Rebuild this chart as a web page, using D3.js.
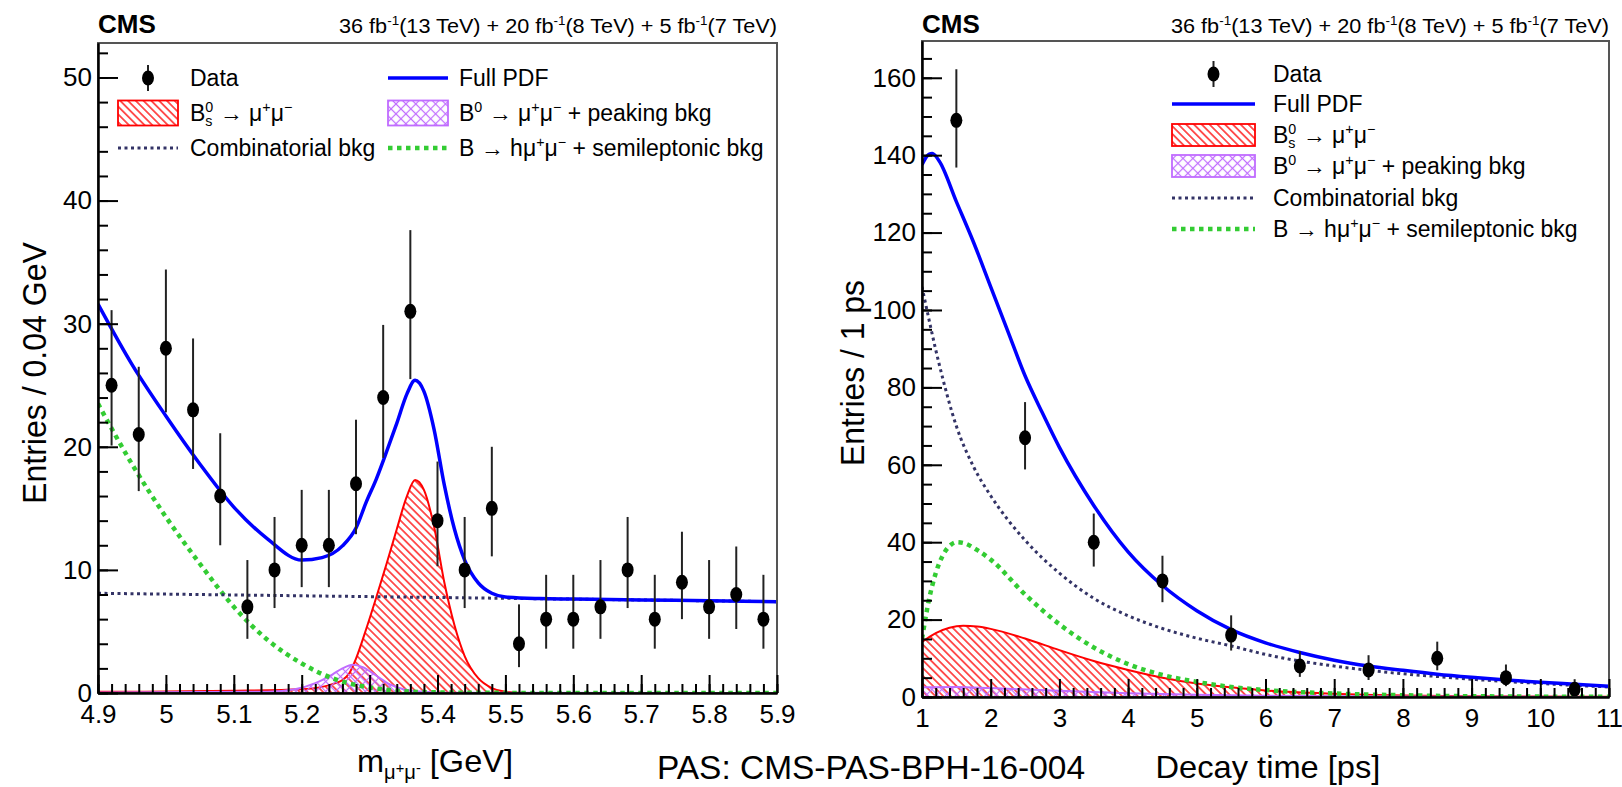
<!DOCTYPE html>
<html>
<head>
<meta charset="utf-8">
<script src="https://cdn.jsdelivr.net/npm/d3@7"></script>
<style>
  body { margin: 0; background: #fff; }
  svg text { font-family: "Liberation Sans", Arial, Helvetica, sans-serif; fill: #000; white-space: pre; }
</style>
</head>
<body>
<script>
// ---- left panel: invariant mass ----
const massBins = [4.92, 4.96, 5.00, 5.04, 5.08, 5.12, 5.16, 5.20, 5.24, 5.28, 5.32, 5.36, 5.40, 5.44, 5.48, 5.52, 5.56, 5.60, 5.64, 5.68, 5.72, 5.76, 5.80, 5.84, 5.88];
const massCounts = [25, 21, 28, 23, 16, 7, 10, 12, 12, 17, 24, 31, 14, 10, 15, 4, 6, 6, 7, 10, 6, 9, 7, 8, 6];
const massErrLow = [20.1, 16.4, 22.8, 18.2, 12.0, 4.4, 6.9, 8.6, 8.6, 12.9, 19.1, 25.5, 10.3, 6.9, 11.1, 2.1, 3.6, 3.6, 4.4, 6.9, 3.6, 6.0, 4.4, 5.2, 3.6];
const massErrHigh = [31.1, 26.5, 34.4, 28.8, 21.1, 10.8, 14.3, 16.5, 16.5, 22.2, 29.9, 37.6, 18.8, 14.3, 20.0, 7.2, 9.6, 9.6, 10.8, 14.3, 9.6, 13.1, 10.8, 11.9, 9.6];

const massFullX = [4.90, 4.95, 5.00, 5.05, 5.10, 5.15, 5.20, 5.23, 5.26, 5.28, 5.295, 5.31, 5.325, 5.34, 5.355, 5.367, 5.38, 5.395, 5.41, 5.425, 5.44, 5.46, 5.48, 5.50, 5.55, 5.60, 5.70, 5.80, 5.90];
const massFullY = [31.6, 26.7, 22.5, 18.6, 15.1, 12.5, 10.8, 11.0, 11.95, 13.4, 15.5, 17.4, 19.6, 21.9, 24.3, 25.4, 24.5, 21.4, 16.9, 13.3, 10.8, 8.95, 8.1, 7.8, 7.67, 7.63, 7.56, 7.49, 7.42];
const massBsX = [4.90, 5.00, 5.10, 5.20, 5.25, 5.27, 5.28, 5.295, 5.31, 5.325, 5.34, 5.355, 5.367, 5.38, 5.395, 5.41, 5.425, 5.44, 5.46, 5.48, 5.50, 5.53, 5.90];
const massBsY = [0.1, 0.12, 0.18, 0.3, 0.8, 1.6, 2.8, 5.2, 7.8, 10.5, 13.3, 16.0, 17.3, 16.5, 13.5, 9.0, 5.5, 3.0, 1.2, 0.4, 0.1, 0.0, 0.0];
const massB0X = [4.90, 5.15, 5.19, 5.22, 5.245, 5.26, 5.275, 5.29, 5.31, 5.33, 5.35, 5.38, 5.42, 5.90];
const massB0Y = [0.05, 0.1, 0.3, 0.8, 1.5, 2.0, 2.3, 2.1, 1.4, 0.7, 0.3, 0.1, 0.03, 0.0];
const massCombX = [4.90, 5.90];
const massCombY = [8.1, 7.42];
const massSemiX = [4.90, 4.95, 5.00, 5.05, 5.10, 5.15, 5.20, 5.25, 5.30, 5.35, 5.40, 5.50, 5.90];
const massSemiY = [23.5, 18.6, 14.3, 10.5, 7.0, 4.3, 2.4, 1.1, 0.45, 0.15, 0.05, 0.01, 0.0];

const massTicksX = [4.9, 5, 5.1, 5.2, 5.3, 5.4, 5.5, 5.6, 5.7, 5.8, 5.9];
const massTicksY = [0, 10, 20, 30, 40, 50];

// ---- right panel: decay time ----
const timeBins = [1.5, 2.5, 3.5, 4.5, 5.5, 6.5, 7.5, 8.5, 9.5, 10.5];
const timeCounts = [149, 67, 40, 30, 16, 8, 7, 10, 5, 2];
const timeErrLow = [136.8, 58.8, 33.7, 24.5, 12.0, 5.2, 4.4, 6.9, 2.8, 0.7];
const timeErrHigh = [162.2, 76.2, 47.4, 36.5, 21.1, 11.8, 10.8, 14.3, 8.4, 4.6];

const timeFullX = [1.0, 1.1, 1.15, 1.25, 1.5, 1.75, 2.0, 2.25, 2.5, 2.75, 3.0, 3.5, 4.0, 4.5, 5.0, 5.5, 6.0, 6.5, 7.0, 7.5, 8.0, 8.5, 9.0, 9.5, 10.0, 10.5, 11.0];
const timeFullY = [137.5, 140.2, 140.4, 138.5, 128, 117.5, 106, 94.5, 83, 73.5, 64.5, 49.5, 37.5, 28.8, 22.3, 17.4, 14.0, 11.5, 9.5, 8.0, 6.9, 5.9, 5.1, 4.4, 3.8, 3.3, 2.8];
const timeBsX = [1.0, 1.2, 1.4, 1.6, 1.8, 2.0, 2.5, 3.0, 3.5, 4.0, 4.5, 5.0, 5.5, 6.0, 7.0, 8.0, 9.0, 10.0, 11.0];
const timeBsY = [14.2, 16.5, 17.9, 18.4, 18.2, 17.6, 15.1, 12.1, 9.3, 7.0, 5.0, 3.5, 2.5, 1.7, 0.85, 0.4, 0.2, 0.1, 0.05];
const timeB0X = [1.0, 1.5, 2.0, 3.0, 4.0, 5.0, 6.0, 8.0, 11.0];
const timeB0Y = [2.5, 2.6, 2.3, 1.6, 1.0, 0.6, 0.35, 0.12, 0.03];
const timeCombX = [1.0, 1.25, 1.5, 1.75, 2.0, 2.5, 3.0, 3.5, 4.0, 4.5, 5.0, 5.5, 6.0, 6.5, 7.0, 7.5, 8.0, 8.5, 9.0, 9.5, 10.0, 10.5, 11.0];
const timeCombY = [106, 86, 70, 59.5, 52, 40.5, 32, 25.5, 21, 17.7, 15.2, 13.2, 11.0, 9.3, 8.0, 6.9, 6.0, 5.3, 4.6, 4.0, 3.5, 3.0, 2.6];
const timeSemiX = [1.0, 1.1, 1.2, 1.3, 1.4, 1.5, 1.6, 1.8, 2.0, 2.5, 3.0, 3.5, 4.0, 4.5, 5.0, 5.5, 6.0, 7.0, 8.0, 9.0, 11.0];
const timeSemiY = [15, 25, 32, 36.5, 39, 40, 39.8, 38, 35.5, 26.5, 18.8, 12.8, 8.5, 5.7, 3.9, 2.6, 1.8, 0.9, 0.45, 0.2, 0.05];

const timeTicksX = [1, 2, 3, 4, 5, 6, 7, 8, 9, 10, 11];
const timeTicksY = [0, 20, 40, 60, 80, 100, 120, 140, 160];

// ---- labels ----
const lumiLabel = [{t: "36 fb"}, {t: "-1", sup: 1}, {t: "(13 TeV) + 20 fb"}, {t: "-1", sup: 1}, {t: "(8 TeV) + 5 fb"}, {t: "-1", sup: 1}, {t: "(7 TeV)"}];
const bsLabel = [{t: "B"}, {t: "0", sup: 1}, {t: "s", sub: 1, stack: 1}, {t: " \u2192 \u03bc"}, {t: "+", sup: 1}, {t: "\u03bc"}, {t: "\u2212", sup: 1}];
const b0Label = [{t: "B"}, {t: "0", sup: 1}, {t: " \u2192 \u03bc"}, {t: "+", sup: 1}, {t: "\u03bc"}, {t: "\u2212", sup: 1}, {t: " + peaking bkg"}];
const semiLabel = [{t: "B \u2192 h\u03bc"}, {t: "+", sup: 1}, {t: "\u03bc"}, {t: "\u2212", sup: 1}, {t: " + semileptonic bkg"}];
const massTitle = [{t: "m"}, {t: "\u03bc", sub: 1}, {t: "+", subsup: 1}, {t: "\u03bc", sub: 1}, {t: "-", subsup: 1}, {t: " [GeV]"}];

const colors = {full: "#0000ff", bs: "#ff0000", b0: "#c06cff", comb: "#333366", semi: "#33cc33"};

const svg = d3.select("body").append("svg")
  .attr("width", 1622)
  .attr("height", 787)
  .attr("style", "background: #fff");

function makePatterns() {
  const defs = svg.append("defs");
  const hatch = defs.append("pattern")
    .attr("id", "hatchRed")
    .attr("patternUnits", "userSpaceOnUse")
    .attr("width", 5.5).attr("height", 5.5)
    .attr("patternTransform", "rotate(-45)");
  hatch.append("line")
    .attr("x1", 2.75).attr("y1", 0).attr("x2", 2.75).attr("y2", 5.5)
    .attr("stroke", colors.bs).attr("stroke-width", 1.3);

  const cross = defs.append("pattern")
    .attr("id", "crossViolet")
    .attr("patternUnits", "userSpaceOnUse")
    .attr("width", 7).attr("height", 7)
    .attr("patternTransform", "rotate(45)");
  cross.append("line")
    .attr("x1", 3.5).attr("y1", 0).attr("x2", 3.5).attr("y2", 7)
    .attr("stroke", colors.b0).attr("stroke-width", 1.2);
  cross.append("line")
    .attr("x1", 0).attr("y1", 3.5).attr("x2", 7).attr("y2", 3.5)
    .attr("stroke", colors.b0).attr("stroke-width", 1.2);
  return defs;
}

// text made of pieces with super/subscripts, laid out one after another
function richText(g, x, y, parts, size, opts = {}) {
  const grp = g.append("g");
  let cx = 0, prevStart = 0;
  parts.forEach(p => {
    let fs = size, dy = 0;
    if (p.sup) { fs = size * 0.62; dy = -size * 0.4; }
    if (p.sub) { fs = size * 0.62; dy = size * 0.22; }
    if (p.subsup) { fs = size * 0.45; dy = size * 0.02; }
    const px = p.stack ? prevStart : cx;
    const el = grp.append("text")
      .attr("x", px).attr("y", dy)
      .attr("font-size", fs)
      .attr("font-weight", opts.bold ? "bold" : null)
      .text(p.t);
    const w = el.node().getComputedTextLength();
    if (p.stack) cx = Math.max(cx, px + w);
    else { prevStart = px; cx = px + w; }
  });
  const sx = opts.width ? opts.width / cx : 1;
  const anchor = opts.anchor == "end" ? 1 : opts.anchor == "middle" ? 0.5 : 0;
  grp.attr("transform", `translate(${x - anchor * cx * sx},${y}) scale(${sx},1)`);
  return grp;
}

function drawAxes(g, p, x, y) {
  const w = p.x1 - p.x0, h = p.y1 - p.y0;

  g.append("rect")
    .attr("x", 0).attr("y", 0).attr("width", w).attr("height", h)
    .attr("fill", "none").attr("stroke", "#555").attr("stroke-width", 2);

  const xMinor = d3.axisBottom(x).tickValues(x.ticks(p.xMinorCount)).tickSizeInner(-9).tickSizeOuter(0).tickFormat("");
  const xMajor = d3.axisBottom(x).tickValues(p.xTicks).tickSizeInner(-18).tickSizeOuter(0).tickPadding(12)
    .tickFormat(d => String(+d.toFixed(2)));
  const yMinor = d3.axisLeft(y).tickValues(y.ticks(p.yMinorCount)).tickSizeInner(-10).tickSizeOuter(0).tickFormat("");
  const yMajor = d3.axisLeft(y).tickValues(p.yTicks).tickSizeInner(-20).tickSizeOuter(0).tickPadding(6);

  [[xMinor, true], [xMajor, true], [yMinor, false], [yMajor, false]].forEach(([ax, bottom]) => {
    const a = g.append("g")
      .attr("transform", bottom ? `translate(0,${h})` : null)
      .call(ax);
    a.selectAll("line").attr("stroke", "#000").attr("stroke-width", 2);
    a.select(".domain").attr("stroke", "#000").attr("stroke-width", 2);
    a.selectAll("text").attr("font-size", 26).attr("fill", "#000")
      .attr("font-family", '"Liberation Sans", Arial, sans-serif');
  });
}

function drawCurves(g, p, x, y) {
  const w = p.x1 - p.x0, h = p.y1 - p.y0;
  const clipId = "clip-" + p.id;
  g.append("clipPath").attr("id", clipId)
    .append("rect").attr("width", w).attr("height", h);
  const c = g.append("g").attr("clip-path", `url(#${clipId})`);

  const pts = (xs, ys) => xs.map((v, i) => [v, ys[i]]);
  const line = d3.line().x(d => x(d[0])).y(d => y(d[1])).curve(d3.curveMonotoneX);
  const area = d3.area().x(d => x(d[0])).y0(y(0)).y1(d => y(d[1])).curve(d3.curveMonotoneX);

  c.append("path").datum(pts(p.bsX, p.bsY))
    .attr("d", area).attr("fill", "url(#hatchRed)");
  c.append("path").datum(pts(p.bsX, p.bsY))
    .attr("d", line).attr("fill", "none").attr("stroke", colors.bs).attr("stroke-width", 2);

  c.append("path").datum(pts(p.b0X, p.b0Y))
    .attr("d", area).attr("fill", "url(#crossViolet)");
  c.append("path").datum(pts(p.b0X, p.b0Y))
    .attr("d", line).attr("fill", "none").attr("stroke", colors.b0).attr("stroke-width", 2);

  c.append("path").datum(pts(p.semiX, p.semiY))
    .attr("d", line).attr("fill", "none").attr("stroke", colors.semi)
    .attr("stroke-width", 4.5).attr("stroke-dasharray", "4.5,4.5");

  c.append("path").datum(pts(p.combX, p.combY))
    .attr("d", line).attr("fill", "none").attr("stroke", colors.comb)
    .attr("stroke-width", 3).attr("stroke-dasharray", "3,3.5");

  c.append("path").datum(pts(p.fullX, p.fullY))
    .attr("d", line).attr("fill", "none").attr("stroke", colors.full).attr("stroke-width", 3.5);
}

function drawData(g, p, x, y) {
  const pts = p.bins.map((b, i) => ({b: b, n: p.counts[i], lo: p.errLow[i], hi: p.errHigh[i]}));
  g.selectAll(".err-" + p.id)
    .data(pts)
    .enter()
    .append("line")
    .attr("x1", d => x(d.b)).attr("x2", d => x(d.b))
    .attr("y1", d => y(d.lo)).attr("y2", d => y(d.hi))
    .attr("stroke", "#222").attr("stroke-width", 2);
  g.selectAll(".pt-" + p.id)
    .data(pts)
    .enter()
    .append("ellipse")
    .attr("cx", d => x(d.b)).attr("cy", d => y(d.n))
    .attr("rx", 6).attr("ry", 7.5)
    .attr("fill", "#000");
}

function drawLegend(lg) {
  const items = [
    {key: "data", label: [{t: "Data"}]},
    {key: "full", label: [{t: "Full PDF"}]},
    {key: "bs", label: bsLabel},
    {key: "b0", label: b0Label},
    {key: "comb", label: [{t: "Combinatorial bkg"}]},
    {key: "semi", label: semiLabel}
  ];
  items.forEach((it, i) => {
    const col = i % lg.cols, row = Math.floor(i / lg.cols);
    const sx = lg.symX[col], tx = lg.textX[col], cy = lg.rows[row];
    const sw = lg.symW, mid = sx + sw / 2;
    if (it.key == "data") {
      svg.append("line").attr("x1", mid).attr("x2", mid).attr("y1", cy - 13).attr("y2", cy + 13)
        .attr("stroke", "#222").attr("stroke-width", 2);
      svg.append("ellipse").attr("cx", mid).attr("cy", cy).attr("rx", 6).attr("ry", 7.5).attr("fill", "#000");
    } else if (it.key == "bs" || it.key == "b0") {
      svg.append("rect")
        .attr("x", sx).attr("y", cy - lg.boxH / 2).attr("width", sw).attr("height", lg.boxH)
        .attr("fill", it.key == "bs" ? "url(#hatchRed)" : "url(#crossViolet)")
        .attr("stroke", colors[it.key]).attr("stroke-width", 1.8);
    } else {
      const l = svg.append("line").attr("x1", sx).attr("x2", sx + sw).attr("y1", cy).attr("y2", cy)
        .attr("stroke", colors[it.key]);
      if (it.key == "full") l.attr("stroke-width", 3.5);
      if (it.key == "comb") l.attr("stroke-width", 3).attr("stroke-dasharray", "3,3.5");
      if (it.key == "semi") l.attr("stroke-width", 4.5).attr("stroke-dasharray", "4.5,4.5");
    }
    richText(svg, tx, cy + 8, it.label, 23);
  });
}

function drawPanel(p) {
  const x = d3.scaleLinear().domain(p.xDomain).range([0, p.x1 - p.x0]);
  const y = d3.scaleLinear().domain(p.yDomain).range([p.y1 - p.y0, 0]);
  const g = svg.append("g").attr("transform", `translate(${p.x0},${p.y0})`);

  drawCurves(g, p, x, y);
  drawData(g, p, x, y);
  drawAxes(g, p, x, y);

  richText(svg, p.x0, 33, [{t: "CMS"}], 26, {bold: true});
  richText(svg, p.x1, 33, lumiLabel, 21, {anchor: "end", width: 438});

  svg.append("text")
    .attr("transform", `translate(${p.yTitleX},373) rotate(-90)`)
    .attr("text-anchor", "middle")
    .attr("font-size", 34)
    .attr("textLength", p.yTitleLen)
    .attr("lengthAdjust", "spacingAndGlyphs")
    .text(p.yTitle);

  if (p.id == "mass") richText(svg, 435, 772, massTitle, 32, {anchor: "middle", width: 156});
  else richText(svg, 1268, 778, [{t: "Decay time [ps]"}], 32, {anchor: "middle", width: 225});

  drawLegend(p.legend);
}

function main() {
  makePatterns();

  drawPanel({
    id: "mass", x0: 98, x1: 777, y0: 43, y1: 693,
    xDomain: [4.9, 5.9], yDomain: [0, 52.8],
    xTicks: massTicksX, yTicks: massTicksY, xMinorCount: 50, yMinorCount: 26,
    bins: massBins, counts: massCounts, errLow: massErrLow, errHigh: massErrHigh,
    fullX: massFullX, fullY: massFullY, bsX: massBsX, bsY: massBsY, b0X: massB0X, b0Y: massB0Y,
    combX: massCombX, combY: massCombY, semiX: massSemiX, semiY: massSemiY,
    yTitle: "Entries / 0.04 GeV", yTitleX: 46, yTitleLen: 262,
    legend: {cols: 2, symX: [118, 388], symW: 60, textX: [190, 459], rows: [78, 113, 148], boxH: 25}
  });

  drawPanel({
    id: "time", x0: 922, x1: 1609, y0: 41, y1: 697,
    xDomain: [1, 11], yDomain: [0, 169.5],
    xTicks: timeTicksX, yTicks: timeTicksY, xMinorCount: 50, yMinorCount: 34,
    bins: timeBins, counts: timeCounts, errLow: timeErrLow, errHigh: timeErrHigh,
    fullX: timeFullX, fullY: timeFullY, bsX: timeBsX, bsY: timeBsY, b0X: timeB0X, b0Y: timeB0Y,
    combX: timeCombX, combY: timeCombY, semiX: timeSemiX, semiY: timeSemiY,
    yTitle: "Entries / 1 ps", yTitleX: 864, yTitleLen: 186,
    legend: {cols: 1, symX: [1172], symW: 83, textX: [1273], rows: [74, 104, 135, 166, 198, 229], boxH: 22}
  });

  svg.append("text")
    .attr("x", 657).attr("y", 779)
    .attr("font-family", "Lato, 'Open Sans', sans-serif")
    .attr("font-size", 33)
    .attr("textLength", 428)
    .attr("lengthAdjust", "spacingAndGlyphs")
    .text("PAS: CMS-PAS-BPH-16-004");
}

main();
</script>
</body>
</html>
